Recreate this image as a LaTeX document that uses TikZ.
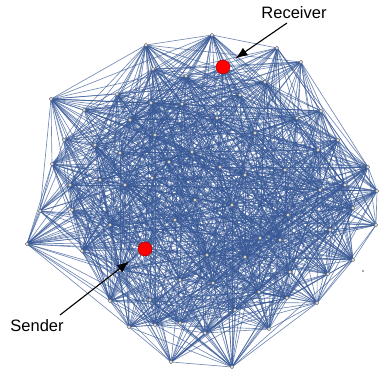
\documentclass[tikz,border=0pt]{standalone}
\usepackage{fontspec}
\setmainfont{Liberation Sans}
\usetikzlibrary{arrows.meta,backgrounds}
\definecolor{edgeblue}{RGB}{55,88,150}
\begin{document}
\begin{tikzpicture}[x=1pt,y=-1pt,
  vtx/.style={circle,inner sep=0pt,minimum size=3.6pt,fill=gray!25,draw=gray!80!black,line width=0.35pt},
  edge/.style={draw=edgeblue,line width=0.65pt,draw opacity=0.7},
  special/.style={circle,inner sep=0pt,minimum size=14pt,fill=red,draw=red!60!black,line width=0.4pt},
  lbl/.style={font=\fontsize{16.5}{19}\selectfont},
  arr/.style={-{Latex[length=12pt,width=9pt]},line width=1.1pt,black}]
\useasboundingbox (0,0) rectangle (380,371);
\def\N{75}
\foreach \i/\x/\y in {1/146/45,2/212/35,3/277/48,4/301/62,5/321/111,6/338/140,7/368/167,8/377/191,
  9/376/225,10/353/208,11/353/260,12/328/274,13/317/303,14/287/298,15/269/329,16/232/367,
  17/205/333,18/171/362,19/180/323,20/155/325,21/129/327,22/110/301,23/82/251,24/27/244,
  25/40/211,26/72/210,27/52/164,28/64/140,29/84/110,30/51/99,31/117/94,32/153/69,33/186/76,
  34/223/67,35/145/249,36/151/103,37/182/104,38/120/153,39/169/162,40/95/145,41/192/152,
  42/152/178,43/125/185,44/255/133,45/217/118,46/297/118,47/285/170,48/220/167,49/288/215,
  50/260/238,51/207/255,52/245/257,53/213/283,54/259/292,55/280/240,56/290/272,57/110/225,
  58/175/220,59/120/270,60/180/280,61/150/300,62/240/95,63/265/82,64/195/200,65/232/205,
  66/320/190,67/330/230,68/100/180,69/70/185,70/318/150,71/345/185,72/245/175,73/155/135,
  74/130/120,75/235/310}
  {\node[vtx] (n\i) at (\x,\y) {};}
\pgfmathsetseed{11}
\begin{scope}[on background layer]
\foreach \i in {1,...,74}{
  \pgfmathtruncatemacro\ip{\i+1}
  \foreach \j in {\ip,...,\N}{
    \pgfpointanchor{n\i}{center}\pgfgetlastxy\xa\ya
    \pgfpointanchor{n\j}{center}\pgfgetlastxy\xb\yb
    \pgfmathsetmacro\dd{veclen((\xa-\xb)/100,(\ya-\yb)/100)}
    \pgfmathsetmacro\pp{\dd<1.3 ? 0.68 : (\dd<2.2 ? 0.42 : 0.14)}
    \pgfmathsetmacro\rr{rnd}
    \ifdim\rr pt<\pp pt\relax
      \draw[edge] (n\i.center) -- (n\j.center);
    \fi
  }
}
\end{scope}
\node[special] (R) at (n34.center) {};
\node[special] (S) at (n35.center) {};
\node[circle,fill=black!70,inner sep=0pt,minimum size=1.6pt] (iso) at (363,271) {};
\node[lbl] (rt) at (294,13) {Receiver};
\node[lbl] (st) at (37,326) {Sender};
\coordinate (ra) at (287,23);
\coordinate (sa) at (60,315);
\draw[arr,shorten >=8pt] (ra) -- (R);
\draw[arr,shorten >=13pt] (sa) -- (S);
\end{tikzpicture}
\end{document}
